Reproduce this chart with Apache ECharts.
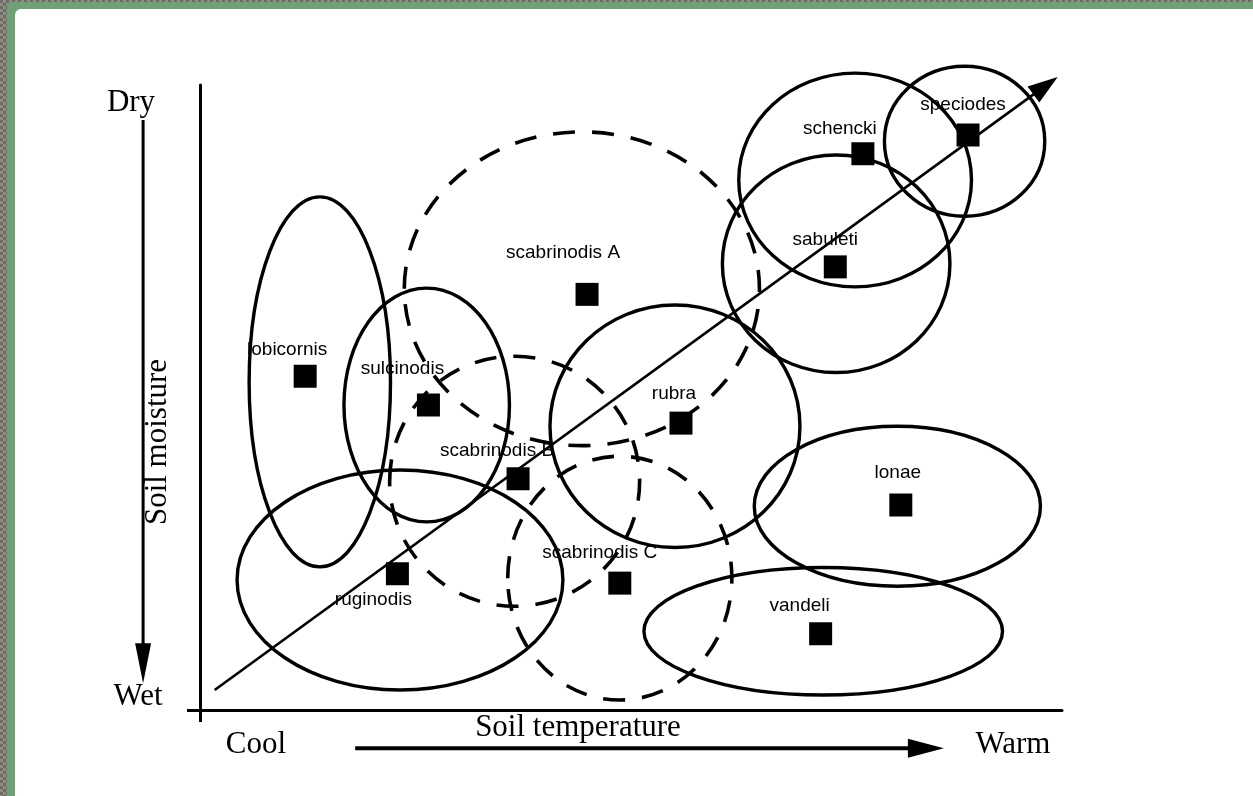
<!DOCTYPE html>
<html>
<head>
<meta charset="utf-8">
<script src="https://cdn.jsdelivr.net/npm/echarts@6.0.0/dist/echarts.min.js"></script>
<style>
  html, body {
    margin: 0;
    width: 1253px;
    height: 796px;
    overflow: hidden;
    background: repeating-conic-gradient(#8e8e86 0 25%, #6c6c64 0 50%) 0 0 / 6px 6px;
  }
  #frame {
    position: absolute;
    left: 7px; top: 2px; right: 0; bottom: 0;
    background: #71a077;
    border-top-left-radius: 6px;
  }
  #paper {
    position: absolute;
    left: 15px; top: 9px; right: 0; bottom: 0;
    background: #ffffff;
    border-top-left-radius: 6px;
  }
  #chart {
    position: absolute;
    left: 0; top: 0;
    width: 1253px;
    height: 796px;
  }
</style>
</head>
<body>
<div id="frame"></div>
<div id="paper"></div>
<div id="chart"></div>
<script>
// species optima, 0-100 along each gradient (x = soil temperature, y = soil moisture, dry at top)
const species = ['lobicornis', 'sulcinodis', 'scabrinodis A', 'scabrinodis B', 'ruginodis', 'scabrinodis C',
                 'rubra', 'sabuleti', 'schencki', 'speciodes', 'lonae', 'vandeli'];
const temperature = [12.2, 26.5, 44.9, 36.9, 22.9, 48.7, 55.8, 73.7, 76.9, 89.1, 81.3, 72.0];
const moisture    = [53.4, 48.8, 66.5, 37.0, 21.8, 20.3, 45.9, 70.9, 89.0, 92.0, 32.8, 12.2];

// niche outlines: centre + half width / half height, same units
const nicheName = ['lobicornis', 'sulcinodis', 'ruginodis', 'rubra', 'lonae', 'vandeli',
                   'sabuleti', 'schencki', 'speciodes', 'scabrinodis A', 'scabrinodis B', 'scabrinodis C'];
const nicheX  = [13.9, 26.3, 23.2, 55.1, 80.9, 72.3, 73.8, 76.0, 88.7, 44.3, 36.5, 48.7];
const nicheY  = [52.5, 48.8, 20.8, 45.4, 32.6, 12.6, 71.4, 84.8, 91.0, 67.4, 36.6, 21.1];
const nicheRx = [ 8.2,  9.6, 18.9, 14.5, 16.6, 20.8, 13.2, 13.5,  9.3, 20.6, 14.5, 13.0];
const nicheRy = [29.6, 18.7, 17.6, 19.4, 12.8, 10.2, 17.4, 17.1, 12.0, 25.1, 20.0, 19.5];
const nicheDashed = [false, false, false, false, false, false, false, false, false, true, true, true];

// arrows: diagonal trend, moisture gradient, temperature gradient
const arrowFrom = [[1.7, 3.2], [-6.6, 94.4], [18.0, -6.1]];
const arrowTo   = [[99.5, 101.3], [-6.6, 4.3], [86.3, -6.1]];

// layout only (px)
const labelOffset = [[-18, -26], [-26, -36], [-24, -42], [-21, -28], [-24, 26], [-20, -30],
                     [-7, -29], [-10, -27], [-23, -25], [-5, -30], [-3, -32], [-21, -28]];
const arrowStyle = [
  { width: 2.6, head: [30, 20] },
  { width: 3, head: [40, 16] },
  { width: 4, head: [36, 19] }
];

const serif = '31px "Liberation Serif", "Times New Roman", serif';

const chart = echarts.init(document.getElementById('chart'), null, { renderer: 'canvas' });

const axisCommon = {
  type: 'value',
  min: 0,
  max: 100,
  axisLine: { show: true, onZero: false, lineStyle: { color: '#000', width: 3 } },
  axisLabel: { show: false },
  splitLine: { show: false }
};

function note(text, x, y, rot) {
  return {
    type: 'text', x: x, y: y, rotation: rot || 0,
    style: { text: text, font: serif, fill: '#000', align: 'center', verticalAlign: 'middle', textAlign: 'center', textVerticalAlign: 'middle' }
  };
}

const option = {
  backgroundColor: 'transparent',
  animation: false,
  grid: { left: 200, top: 85, right: 191, bottom: 86 },
  xAxis: Object.assign({}, axisCommon, {
    axisTick: { show: true, customValues: [0], length: 12, lineStyle: { color: '#000', width: 3 } }
  }),
  yAxis: Object.assign({}, axisCommon, {
    axisTick: { show: true, customValues: [0], length: 13, lineStyle: { color: '#000', width: 3 } }
  }),
  graphic: [
    note('Dry', 131, 103),
    note('Wet', 138, 697),
    note('Soil moisture', 158, 442, Math.PI / 2),
    note('Cool', 256, 745),
    note('Soil temperature', 578, 728),
    note('Warm', 1013, 745)
  ],
  series: [
    {
      // niche ellipses
      type: 'custom',
      name: 'niches',
      silent: true,
      z: 1,
      clip: false,
      data: nicheName.map((n, i) => ({ name: n, value: [nicheX[i], nicheY[i], nicheRx[i], nicheRy[i], nicheDashed[i] ? 1 : 0] })),
      encode: { x: 0, y: 1 },
      renderItem: function (params, api) {
        const c = api.coord([api.value(0), api.value(1)]);
        const s = api.size([api.value(2), api.value(3)]);
        const dashed = api.value(4) === 1;
        return {
          type: 'ellipse',
          shape: { cx: c[0], cy: c[1], rx: s[0], ry: s[1] },
          style: {
            fill: 'none',
            stroke: '#000',
            lineWidth: dashed ? 3.6 : 3.4,
            lineDash: dashed ? [22, 17] : null
          }
        };
      }
    },
    {
      // arrows
      type: 'custom',
      name: 'arrows',
      silent: true,
      z: 2,
      clip: false,
      data: arrowFrom.map((p, i) => [p[0], p[1], arrowTo[i][0], arrowTo[i][1]]),
      encode: { x: [0, 2], y: [1, 3] },
      renderItem: function (params, api) {
        const a = api.coord([api.value(0), api.value(1)]);
        const b = api.coord([api.value(2), api.value(3)]);
        const st = arrowStyle[params.dataIndex];
        const dx = b[0] - a[0], dy = b[1] - a[1];
        const len = Math.sqrt(dx * dx + dy * dy);
        const ux = dx / len, uy = dy / len;
        const bx = b[0] - ux * st.head[0], by = b[1] - uy * st.head[0];
        const hw = st.head[1] / 2;
        return {
          type: 'group',
          children: [
            {
              type: 'line',
              shape: { x1: a[0], y1: a[1], x2: bx + ux * 4, y2: by + uy * 4 },
              style: { stroke: '#000', lineWidth: st.width }
            },
            {
              type: 'polygon',
              shape: { points: [[b[0], b[1]], [bx - uy * hw, by + ux * hw], [bx + uy * hw, by - ux * hw]] },
              style: { fill: '#000' }
            }
          ]
        };
      }
    },
    {
      // species optima
      type: 'scatter',
      name: 'species',
      silent: true,
      z: 3,
      symbol: 'rect',
      symbolSize: 23,
      itemStyle: { color: '#000', opacity: 1 },
      label: {
        show: true,
        position: 'inside',
        formatter: '{b}',
        fontFamily: 'Liberation Sans',
        fontSize: 19,
        color: '#000',
        opacity: 1
      },
      data: species.map((n, i) => ({
        name: n,
        value: [temperature[i], moisture[i]],
        label: { offset: labelOffset[i] }
      }))
    }
  ]
};

chart.setOption(option);
</script>
</body>
</html>
